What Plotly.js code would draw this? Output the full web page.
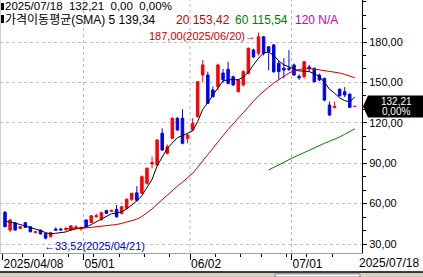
<!DOCTYPE html>
<html><head><meta charset="utf-8">
<script src="https://cdn.plot.ly/plotly-3.0.1.min.js"></script>
<style>html,body{margin:0;padding:0;background:#fff;}#chart{width:423px;height:277px;}</style>
</head><body><div id="chart"></div>
<script>
const dates = ['2025-04-08','2025-04-09','2025-04-10','2025-04-11','2025-04-14','2025-04-15','2025-04-16','2025-04-17','2025-04-21','2025-04-22','2025-04-23','2025-04-24','2025-04-25','2025-04-28','2025-04-29','2025-04-30',
'2025-05-01','2025-05-02','2025-05-05','2025-05-06','2025-05-07','2025-05-08','2025-05-09','2025-05-12','2025-05-13','2025-05-14','2025-05-15','2025-05-16','2025-05-19','2025-05-20','2025-05-21','2025-05-22','2025-05-23','2025-05-27','2025-05-28','2025-05-29','2025-05-30',
'2025-06-02','2025-06-03','2025-06-04','2025-06-05','2025-06-06','2025-06-09','2025-06-10','2025-06-11','2025-06-12','2025-06-13','2025-06-16','2025-06-17','2025-06-18','2025-06-20','2025-06-23','2025-06-24','2025-06-25','2025-06-26','2025-06-27','2025-06-30',
'2025-07-01','2025-07-02','2025-07-03','2025-07-07','2025-07-08','2025-07-09','2025-07-10','2025-07-11','2025-07-14','2025-07-15','2025-07-16','2025-07-17','2025-07-18'];
const openP  = [53.6,40.4,45.8,41.7,45.8,42.9,38.5,40.4,37.9,35.5,41.2,41.2,40.6,40.4,41.9,41.2,47.9,46.0,50.3,48.0,54.8,54.3,55.8,52.8,56.5,63.2,68.0,67.7,75.1,89.5,88.7,112.2,97.4,108.5,123.4,123.4,108.5,114.7,124.5,155.5,155.5,144.4,146.8,157.0,159.7,154.2,143.1,148.1,156.8,174.1,171.6,183.9,176.5,177.8,164.2,160.5,160.5,162.9,154.5,154.2,161.5,160.5,155.5,153.0,133.2,131.2,144.9,143.1,141.2,132.20];
const highP  = [54.5,48.5,46.5,43.5,46.5,43.3,39.6,40.8,38.2,39.0,42.2,42.0,42.9,44.1,44.1,43.0,48.3,51.5,52.5,54.0,55.5,55.5,59.0,58.5,64.0,68.0,73.0,81.0,87.0,95.0,108.0,115.9,104.0,124.0,124.2,130.0,111.5,123.4,151.0,166.6,158.0,147.0,164.0,160.0,165.4,155.0,152.5,159.0,176.0,175.0,187.0,184.5,177.0,178.5,166.0,168.0,174.0,164.0,156.0,166.0,163.0,161.0,156.5,153.5,135.7,135.7,145.5,146.5,142.0,132.21];
const lowP   = [42.5,38.9,40.0,41.0,42.0,38.8,38.0,37.2,33.52,35.0,39.8,40.0,40.2,40.0,41.5,40.0,42.5,45.5,49.5,47.5,52.3,53.8,49.5,52.0,56.0,62.0,61.5,67.0,74.0,86.0,88.0,99.0,96.5,108.0,114.0,104.0,104.8,114.0,124.0,150.0,134.0,139.0,144.0,150.0,148.5,147.5,142.5,147.0,156.0,168.0,170.0,170.0,159.0,157.0,152.0,153.0,158.5,155.0,151.8,153.0,158.0,150.0,151.0,136.0,125.0,131.0,139.5,139.0,131.0,132.20];
const closeP = [42.9,47.9,40.4,42.9,42.4,39.1,39.1,37.5,34.4,38.6,40.3,40.5,41.3,43.5,42.6,42.0,42.9,51.0,51.0,53.3,52.8,54.9,50.3,57.7,63.2,67.7,62.5,80.0,86.2,90.5,107.2,99.8,102.3,123.4,114.7,104.8,111.0,119.6,150.5,163.0,134.5,139.4,162.9,152.0,149.3,148.1,151.8,158.0,175.3,169.0,183.9,171.6,172.8,158.0,158.0,159.2,159.8,155.5,153.5,165.4,160.0,150.5,151.8,136.9,125.8,132.0,140.1,140.7,131.5,132.21];
const ma5  = [47,46.5,45.5,44.5,43.5,42.5,41,40,38.5,37.5,38,38.5,39,40.5,41.5,42,42.5,44.5,46,48,50.5,52.5,53,54,56,59,62,66,72,78,88,95,101,105,109,110.5,112,114,121,130,135,141,146,151,152,152,152,154,157.5,163,168,172,172.5,170,166,163,161.5,160,158.5,158.5,158,156.5,154.5,150,145,142,138.5,136.5,135.5,139.34];
const ma20 = [null,null,null,null,null,null,null,null,null,null,null,null,
41.5,41.5,41.6,41.8,42,42.4,42.8,43,43.5,44,44.5,45.3,46.3,47.5,48.5,50.5,53,56,59.5,63,66,69.5,73,76,79,82.5,87,92,96.5,101,106,110.5,115,119.5,123.5,127.5,132,136,140,143.5,146.5,149.5,152,154.5,157,158.5,159.5,160.5,160.5,160,159.5,159,158.5,158,157,156,154.8,153.42];
const ma60 = new Array(52).fill(null).concat([85,87,89,91,92.8,94.5,96.2,98,99.8,101.5,103.2,104.8,106.3,107.8,109.5,111.5,113.5,115.54]);
const ma120Label = 'N/A';
const lastChange = 0.00, lastChangePct = 0.00;
const yTickVals = [30,60,90,120,150,180];
const xLabelDates = ['2025-04-08','2025-05-01','2025-06-02','2025-07-01'];
const xLabelText = ['2025/04/08','05/01','06/02','07/01'];
const monthLineDates = ['2025-05-01','2025-06-02','2025-07-01'];
const weekTickDates = ['2025-04-14','2025-04-21','2025-04-28','2025-05-05','2025-05-12','2025-05-19','2025-05-27','2025-06-09','2025-06-16','2025-06-23','2025-06-30','2025-07-07','2025-07-14'];

const PW = 362, PH = 253;
const px = p => p / PW, py = p => (PH - p) / PH;
const fmt = v => v.toFixed(2).replace('.', ',');
const idx = d => dates.indexOf(d);
const FONT = 'Liberation Sans, Arial, Noto Sans CJK KR, sans-serif';

const n = dates.length;
const lastClose = closeP[n-1];
let hiI = 0, loI = 0;
highP.forEach((v,i)=>{ if (v > highP[hiI]) hiI = i; });
lowP.forEach((v,i)=>{ if (v < lowP[loI]) loI = i; });
const slash = d => d.replace(/-/g,'/');

const traces = [
  {type:'candlestick', x:dates, open:openP, high:highP, low:lowP, close:closeP,
   increasing:{line:{color:'#ff0000', width:1}, fillcolor:'#ff0000'},
   decreasing:{line:{color:'#0000ff', width:1}, fillcolor:'#0000ff'},
   whiskerwidth:0, hoverinfo:'skip', showlegend:false},
  {type:'scatter', mode:'lines', x:dates, y:ma5, line:{color:'#000000', width:1}, hoverinfo:'skip', showlegend:false},
  {type:'scatter', mode:'lines', x:dates, y:ma20, line:{color:'#c80000', width:1}, hoverinfo:'skip', showlegend:false},
  {type:'scatter', mode:'lines', x:dates, y:ma60, line:{color:'#008000', width:1}, hoverinfo:'skip', showlegend:false}
];

const shapes = [];
monthLineDates.forEach(d => shapes.push({type:'line', xref:'x', yref:'paper', x0:idx(d)-0.5, x1:idx(d)-0.5, y0:0, y1:1, line:{color:'#b8b8b8', width:1, dash:'3px,3px'}, layer:'below'}));
shapes.push({type:'line', xref:'paper', yref:'paper', x0:0.001, x1:0.001, y0:0, y1:1, line:{color:'#c8c8c8', width:1}});
shapes.push({type:'rect', xref:'paper', yref:'paper', x0:px(1), x1:px(4), y0:py(10), y1:py(3), fillcolor:'#000', line:{width:0}});
shapes.push({type:'rect', xref:'paper', yref:'paper', x0:px(1), x1:px(4), y0:py(23), y1:py(15), fillcolor:'#000', line:{width:0}});
const hh = 11 / 1.347;
shapes.push({type:'path', xref:'paper', yref:'y', fillcolor:'#000', line:{width:0},
  path:`M ${px(363)} ${lastClose} L ${px(368)} ${lastClose+hh} L ${px(423)} ${lastClose+hh} L ${px(423)} ${lastClose-hh} L ${px(368)} ${lastClose-hh} Z`});
shapes.push({type:'rect', xref:'paper', yref:'paper', x0:px(0), x1:px(423), y0:py(277), y1:py(272), fillcolor:'#d4d0c8', line:{width:0}});
shapes.push({type:'line', xref:'paper', yref:'paper', x0:px(0), x1:px(423), y0:py(272), y1:py(272), line:{color:'#000', width:1.5}});
shapes.push({type:'rect', xref:'paper', yref:'paper', x0:px(275), x1:px(360), y0:py(277), y1:py(274), fillcolor:'#ffffff', line:{color:'#808080', width:1}});

const ann = [];
const hdr = (text, x, yc, color, size) => ann.push({xref:'paper', yref:'paper', x:px(x), y:py(yc), xanchor:'left', yanchor:'middle', text, showarrow:false, borderpad:0, font:{family:FONT, size:size||12, color}});
hdr(`${slash(dates[n-1])}  ${fmt(lastClose)}  ${fmt(lastChange)}  ${fmt(lastChangePct)}%`, 4, 6.5, '#000', 11.5);
hdr(`가격이동평균(SMA) 5 ${fmt(ma5[n-1])}`, 4, 19.5, '#000', 12);
hdr(`20 ${fmt(ma20[n-1])}`, 175, 19.5, '#c80000', 12);
hdr(`60 ${fmt(ma60[n-1])}`, 234, 19.5, '#008000', 12);
hdr(`120 ${ma120Label}`, 294, 19.5, '#c000c0', 12);
ann.push({xref:'x', yref:'y', x:hiI, y:highP[hiI], xanchor:'right', yanchor:'middle', xshift:-1, yshift:-3, text:`${fmt(highP[hiI])}(${slash(dates[hiI])})→`, showarrow:false, font:{family:FONT, size:11, color:'#c80000'}});
ann.push({xref:'x', yref:'y', x:loI, y:lowP[loI], xanchor:'left', yanchor:'middle', xshift:-4, yshift:-7, text:`←${fmt(lowP[loI])}(${slash(dates[loI])})`, showarrow:false, font:{family:FONT, size:11, color:'#0000c8'}});
ann.push({xref:'paper', yref:'y', x:px(396), y:lastClose, xanchor:'center', yanchor:'middle', yshift:5, text:fmt(lastClose), showarrow:false, font:{family:FONT, size:10, color:'#fff'}});
ann.push({xref:'paper', yref:'y', x:px(396), y:lastClose, xanchor:'center', yanchor:'middle', yshift:-5, text:`${fmt(lastChangePct)}%`, showarrow:false, font:{family:FONT, size:10, color:'#fff'}});
ann.push({xref:'paper', yref:'paper', x:px(421), y:py(262.5), xanchor:'right', yanchor:'middle', text:slash(dates[n-1]), showarrow:false, font:{family:FONT, size:12, color:'#000'}});

const layout = {
  width:423, height:277, margin:{l:0, r:61, t:0, b:24},
  paper_bgcolor:'#fff', plot_bgcolor:'#fff', showlegend:false, dragmode:false,
  xaxis:{type:'category', range:[-0.99, 70.41], rangeslider:{visible:false}, showgrid:false, zeroline:false,
    showline:true, linecolor:'#a0a0a0', linewidth:1,
    tickmode:'array', tickvals:xLabelDates.map(d=>idx(d)-0.5), ticktext:xLabelText,
    ticks:'outside', ticklen:6, tickcolor:'#000', ticklabelposition:'outside right',
    tickfont:{family:FONT, size:12, color:'#000'},
    minor:{tickmode:'array', tickvals:weekTickDates.map(d=>idx(d)-0.5), ticks:'outside', ticklen:3, tickcolor:'#000', showgrid:false}},
  yaxis:{side:'right', range:[23.36, 211.18], showline:true, linecolor:'#000', linewidth:1, zeroline:false,
    tickmode:'array', tickvals:yTickVals, ticktext:yTickVals.map(fmt), ticks:'outside', ticklen:4, tickcolor:'#000',
    showgrid:true, gridcolor:'#c0c0c0', griddash:'3px,3px', gridwidth:1,
    tickfont:{family:FONT, size:11, color:'#000'},
    minor:{dtick:10, tick0:0, ticks:'outside', ticklen:3, tickcolor:'#000', showgrid:false}},
  shapes, annotations:ann
};
Plotly.newPlot('chart', traces, layout, {staticPlot:true, displayModeBar:false});
</script></body></html>
